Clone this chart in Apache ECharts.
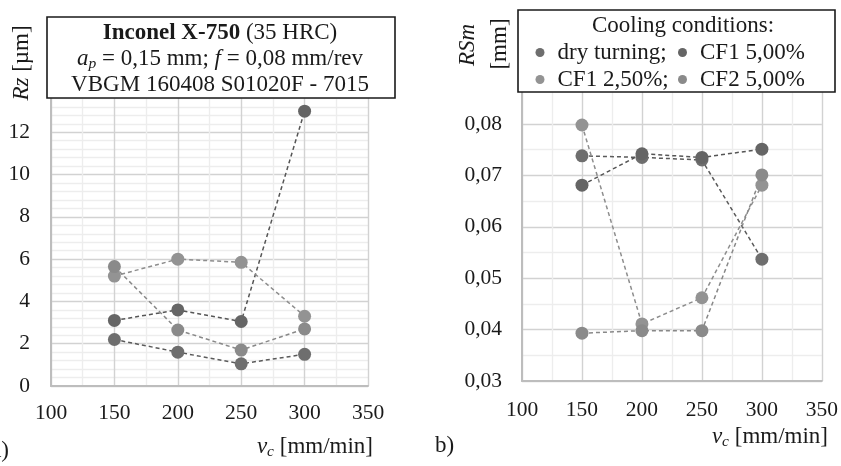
<!DOCTYPE html>
<html><head><meta charset="utf-8">
<script src="https://cdn.jsdelivr.net/npm/echarts@6/dist/echarts.min.js"></script>
<style>html,body{margin:0;padding:0;background:#fff}#c{width:841px;height:466px}</style>
</head><body><div id="c"></div>
<script>
// ---- data ----
const speeds = [150, 200, 250, 300];
const seriesNames = ['dry turning', 'CF1 5,00%', 'CF1 2,50%', 'CF2 5,00%'];
// Rz [µm]
const rzDry   = [2.2, 1.6, 1.05, 1.5];
const rzCF1_5 = [3.1, 3.6, 3.05, 13.0];
const rzCF1_25 = [5.2, 6.0, 5.85, 3.3];
const rzCF2_5 = [5.65, 2.65, 1.7, 2.7];
// RSm [mm]
const rsmDry   = [0.0738, 0.0735, 0.0730, 0.0537];
const rsmCF1_5 = [0.0681, 0.0742, 0.0735, 0.0751];
const rsmCF1_25 = [0.0798, 0.0411, 0.0462, 0.0681];
const rsmCF2_5 = [0.0393, 0.0398, 0.0398, 0.0701];
// ticks
const xTicks = [100, 150, 200, 250, 300, 350];
const rzTicks = [0, 2, 4, 6, 8, 10, 12];
const rsmTicks = [0.03, 0.04, 0.05, 0.06, 0.07, 0.08];

const FF = '"Liberation Serif","Times New Roman",serif';
const DARK1 = '#6e6e6e', DARK2 = '#656565', LIGHT1 = '#939393', LIGHT2 = '#8a8a8a';
const colors = [DARK1, DARK2, LIGHT1, LIGHT2];
const lineColors = ['#5a5a5a', '#555555', '#8d8d8d', '#888888'];
const MAJ = '#d2d2d2', MIN = '#ededed';
const TXT = '#1a1a1a';
const FS = 23, TFS = 21.5;

const rzSets = [rzDry, rzCF1_5, rzCF1_25, rzCF2_5];
const rsmSets = [rsmDry, rsmCF1_5, rsmCF1_25, rsmCF2_5];

function mk(name, idx, arr, axis) {
  return {
    name: name, type: 'line', xAxisIndex: axis, yAxisIndex: axis,
    data: speeds.map((s, i) => [s, arr[i]]),
    symbol: 'circle', symbolSize: 13,
    itemStyle: { color: colors[idx] },
    lineStyle: { color: lineColors[idx], width: 1.5, type: [4, 3] },
    emphasis: { disabled: true }, animation: false
  };
}
const series = [];
seriesNames.forEach((n, i) => series.push(mk(n, i, rzSets[i], 0)));
seriesNames.forEach((n, i) => series.push(mk(n, i, rsmSets[i], 1)));

const xAxisBase = (gi, margin) => ({
  gridIndex: gi, type: 'value', min: xTicks[0], max: xTicks[xTicks.length - 1], interval: 50,
  axisLine: { show: true, lineStyle: { color: '#bdbdbd', width: 2 } },
  axisTick: { show: false },
  axisLabel: { fontFamily: FF, fontSize: TFS, color: TXT, margin: margin },
  splitLine: { show: true, lineStyle: { color: MAJ, width: 1.4 } },
  minorTick: { show: false, splitNumber: 2 },
  minorSplitLine: { show: true, lineStyle: { color: MIN, width: 1.4 } }
});

// right y: split lines every 0.005 with alternating colours (no line at 0.085)
const rsmSplitColors = [];
for (let k = 0; k <= 12; k++) rsmSplitColors.push(k === 11 ? 'rgba(0,0,0,0)' : (k % 2 === 0 ? MAJ : MIN));

const legendItem = (name, left, top, fmt) => ({
  data: [name], left: left, top: top, padding: 0, itemWidth: 9, itemHeight: 9, icon: 'circle',
  selectedMode: false, z: 20,
  textStyle: { fontFamily: FF, fontSize: FS, color: TXT, padding: [0, 0, 0, 8] },
  formatter: fmt
});

const subRich = {
  i: { fontFamily: FF, fontSize: FS, fontStyle: 'italic', lineHeight: 26, fill: TXT },
  s: { fontFamily: FF, fontSize: 15.5, fontStyle: 'italic', lineHeight: 15, verticalAlign: 'bottom', fill: TXT }
};

const option = {
  animation: false,
  backgroundColor: '#fff',
  grid: [
    { left: 51, top: 90, width: 317, height: 296 },
    { left: 522, top: 72.6, width: 301, height: 308.4 }
  ],
  xAxis: [xAxisBase(0, 16), xAxisBase(1, 18)],
  yAxis: [
    {
      gridIndex: 0, type: 'value', min: rzTicks[0], max: 14, interval: 2,
      axisLine: { show: true, lineStyle: { color: '#bdbdbd', width: 2 } },
      axisTick: { show: false },
      axisLabel: { fontFamily: FF, fontSize: TFS, color: TXT, margin: 21,
        formatter: v => (rzTicks.indexOf(v) >= 0 ? String(v) : '') },
      splitLine: { show: true, lineStyle: { color: MAJ, width: 1.4 } },
      minorTick: { show: false, splitNumber: 5 },
      minorSplitLine: { show: true, lineStyle: { color: MIN, width: 1.4 } }
    },
    {
      gridIndex: 1, type: 'value', min: rsmTicks[0], max: 0.09, interval: 0.005,
      axisLine: { show: true, lineStyle: { color: '#bdbdbd', width: 2 } },
      axisTick: { show: false },
      axisLabel: { fontFamily: FF, fontSize: TFS, color: TXT, margin: 20,
        formatter: v => {
          const hit = rsmTicks.find(t => Math.abs(t - v) < 1e-6);
          return hit === undefined ? '' : hit.toFixed(2).replace('.', ',');
        } },
      splitLine: { show: true, lineStyle: { color: rsmSplitColors, width: 1.4 } }
    }
  ],
  legend: [
    legendItem(seriesNames[0], 535.5, 41, n => n + ';'),
    legendItem(seriesNames[1], 678, 41, n => n),
    legendItem(seriesNames[2], 535.5, 68, n => n + ';'),
    legendItem(seriesNames[3], 678, 68, n => n)
  ],
  graphic: [
    { type: 'rect', z: 10, shape: { x: 47, y: 17, width: 348, height: 81 },
      style: { fill: '#fff', stroke: TXT, lineWidth: 1.6 } },
    { type: 'text', z: 11, x: 220, y: 33,
      style: { text: '{b|Inconel X-750} (35 HRC)', fontFamily: FF, fontSize: FS, fill: TXT,
        align: 'center', verticalAlign: 'middle',
        rich: { b: { fontFamily: FF, fontSize: FS, fontWeight: 'bold', fill: TXT } } } },
    { type: 'text', z: 11, x: 220, y: 59,
      style: { text: '{i|a}{s|p} = 0,15 mm; {i|f} = 0,08 mm/rev', fontFamily: FF, fontSize: FS, fill: TXT,
        align: 'center', verticalAlign: 'middle', lineHeight: 26, rich: subRich } },
    { type: 'text', z: 11, x: 220, y: 85,
      style: { text: 'VBGM 160408 S01020F - 7015', fontFamily: FF, fontSize: FS, fill: TXT,
        align: 'center', verticalAlign: 'middle' } },

    { type: 'rect', z: 10, shape: { x: 518, y: 10, width: 317, height: 82 },
      style: { fill: '#fff', stroke: TXT, lineWidth: 1.6 } },
    { type: 'text', z: 11, x: 683, y: 26,
      style: { text: 'Cooling conditions:', fontFamily: FF, fontSize: FS, fill: TXT,
        align: 'center', verticalAlign: 'middle' } },

    // axis titles
    { type: 'text', z: 11, x: 22, y: 63, rotation: Math.PI / 2,
      style: { text: '{i|Rz} [µm]', fontFamily: FF, fontSize: FS, fill: TXT,
        align: 'center', verticalAlign: 'middle',
        rich: { i: { fontFamily: FF, fontSize: FS, fontStyle: 'italic', fill: TXT } } } },
    { type: 'text', z: 11, x: 468, y: 45, rotation: Math.PI / 2,
      style: { text: 'RSm', fontFamily: FF, fontSize: FS, fontStyle: 'italic', fill: TXT,
        align: 'center', verticalAlign: 'middle' } },
    { type: 'text', z: 11, x: 500, y: 44, rotation: Math.PI / 2,
      style: { text: '[mm]', fontFamily: FF, fontSize: FS, fill: TXT,
        align: 'center', verticalAlign: 'middle' } },
    { type: 'text', z: 11, x: 373, y: 447,
      style: { text: '{i|v}{s|c} [mm/min]', fontFamily: FF, fontSize: FS, fill: TXT,
        align: 'right', verticalAlign: 'middle', lineHeight: 26, rich: subRich } },
    { type: 'text', z: 11, x: 828, y: 437,
      style: { text: '{i|v}{s|c} [mm/min]', fontFamily: FF, fontSize: FS, fill: TXT,
        align: 'right', verticalAlign: 'middle', lineHeight: 26, rich: subRich } },
    { type: 'text', z: 11, x: 9, y: 451,
      style: { text: 'a)', fontFamily: FF, fontSize: FS, fill: TXT, align: 'right', verticalAlign: 'middle' } },
    { type: 'text', z: 11, x: 435, y: 446,
      style: { text: 'b)', fontFamily: FF, fontSize: FS, fill: TXT, align: 'left', verticalAlign: 'middle' } }
  ],
  series: series
};
const chart = echarts.init(document.getElementById('c'), null, { renderer: 'canvas' });
chart.setOption(option);
</script></body></html>
